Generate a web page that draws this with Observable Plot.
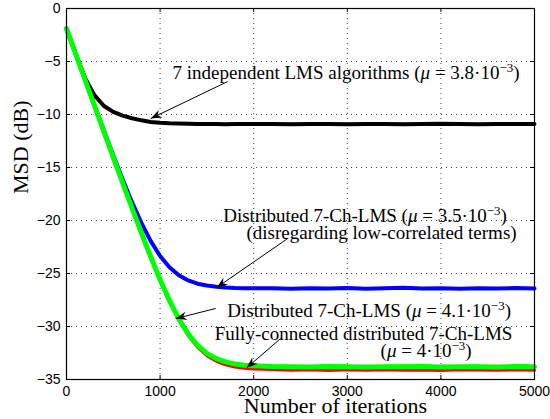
<!DOCTYPE html>
<html><head><meta charset="utf-8">
<script src="https://cdn.jsdelivr.net/npm/d3@7"></script>
<script src="https://cdn.jsdelivr.net/npm/@observablehq/plot@0.6"></script>
<style>html,body{margin:0;padding:0;background:#fff;}</style>
</head><body><div id="chart"></div>
<script>
// ---- data ----
const iterations = [0,100,200,300,400,500,600,700,800,900,1000,1100,1200,1300,1400,1500,1600,1700,1800,1900,2000,
  2200,2400,2600,2800,3000,3200,3400,3600,3800,4000,4200,4400,4600,4800,5000];
const msdIndependent = [-1.90,-4.30,-6.60,-8.20,-9.20,-9.75,-10.10,-10.35,-10.55,-10.70,-10.78,-10.83,-10.86,-10.88,-10.89,-10.90,-10.90,-10.91,-10.90,-10.89,-10.90,
  -10.90,-10.91,-10.89,-10.90,-10.92,-10.90,-10.89,-10.91,-10.90,-10.88,-10.90,-10.91,-10.90,-10.89,-10.90];
const msdDisregarding = [-1.90,-4.33,-6.75,-9.15,-11.53,-13.86,-16.12,-18.27,-20.23,-21.94,-23.35,-24.41,-25.16,-25.65,-25.96,-26.14,-26.25,-26.32,-26.36,-26.38,-26.39,
  -26.40,-26.43,-26.38,-26.42,-26.36,-26.44,-26.40,-26.35,-26.42,-26.39,-26.45,-26.38,-26.41,-26.37,-26.42];
const msdFullyConnected = [-1.90,-4.34,-6.77,-9.20,-11.63,-14.06,-16.47,-18.86,-21.20,-23.48,-25.63,-27.63,-29.39,-30.85,-31.96,-32.76,-33.28,-33.62,-33.82,-33.94,-34.01,
  -34.06,-34.12,-34.08,-34.14,-34.09,-34.13,-34.07,-34.12,-34.10,-34.15,-34.08,-34.11,-34.13,-34.09,-34.12];
const msdDistributed = [-1.90,-4.34,-6.77,-9.20,-11.63,-14.05,-16.46,-18.84,-21.17,-23.44,-25.59,-27.56,-29.29,-30.70,-31.77,-32.53,-33.03,-33.34,-33.54,-33.65,-33.71,
  -33.77,-33.79,-33.81,-33.78,-33.80,-33.82,-33.79,-33.80,-33.78,-33.81,-33.79,-33.80,-33.82,-33.78,-33.80];

const xTicks = [0,1000,2000,3000,4000,5000];
const yTicks = [0,-5,-10,-15,-20,-25,-30,-35];
const xGrid = [1000,2000,3000,4000];
const yGrid = [-5,-10,-15,-20,-25,-30];

const annotationTexts = [
  "7 independent LMS algorithms (μ = 3.8·10⁻³)",
  "Distributed 7-Ch-LMS (μ = 3.5·10⁻³)",
  "(disregarding low-correlated terms)",
  "Distributed 7-Ch-LMS (μ = 4.1·10⁻³)",
  "Fully-connected distributed 7-Ch-LMS",
  "(μ = 4·10⁻³)"
];
const annotationX = [2987, 3190, 3366, 3233, 3174, 3842];
const annotationY = [-6.04, -19.53, -21.13, -28.49, -30.66, -32.26];

const arrowX1 = [1722, 2363, 1594, 2288];
const arrowY1 = [-6.89, -21.7, -28.3, -31.13];
const arrowX2 = [900, 1605, 1167, 1925];
const arrowY2 = [-10.38, -26.32, -29.25, -33.9];

// ---- build tables ----
const series = [
  {name: "independent", values: msdIndependent, color: "#000000", width: 4},
  {name: "disregarding", values: msdDisregarding, color: "#0000ff", width: 4},
  {name: "fully", values: msdFullyConnected, color: "#ff0000", width: 3},
  {name: "distributed", values: msdDistributed, color: "#00ff00", width: 5}
];
const tableFor = s => iterations.map((it, i) => ({x: it, y: s.values[i]}));
const annotations = annotationTexts.map((t, i) => ({text: t, x: annotationX[i], y: annotationY[i]}));
const arrows = arrowX1.map((x, i) => ({x1: x, y1: arrowY1[i], x2: arrowX2[i], y2: arrowY2[i]}));

const W = 550, H = 419, mL = 66, mR = 16, mT = 8, mB = 40;
const plotW = W - mL - mR, plotH = H - mT - mB;
const serif = "'Liberation Serif', 'Times New Roman', serif";
const sans = "'Liberation Sans', Arial, Helvetica, sans-serif";
const fmtY = d => d < 0 ? "\u2212" + Math.abs(d) : String(d);

function stealth(color, context) {
  const ns = "http://www.w3.org/2000/svg";
  const doc = (context && context.document) || document;
  const m = doc.createElementNS(ns, "marker");
  m.setAttribute("viewBox", "-12 -5 13 10");
  m.setAttribute("markerWidth", 13);
  m.setAttribute("markerHeight", 10);
  m.setAttribute("markerUnits", "userSpaceOnUse");
  m.setAttribute("orient", "auto");
  m.setAttribute("refX", 0);
  m.setAttribute("refY", 0);
  const p = doc.createElementNS(ns, "path");
  p.setAttribute("d", "M0,0L-11,-4.2L-7.5,0L-11,4.2Z");
  p.setAttribute("fill", "black");
  p.setAttribute("stroke", "none");
  m.appendChild(p);
  return m;
}

function build(useMarker) {
  const arrowMark = useMarker
    ? Plot.link(arrows, {x1: "x1", y1: "y1", x2: "x2", y2: "y2", stroke: "black", strokeWidth: 1, markerEnd: stealth})
    : Plot.arrow(arrows, {x1: "x1", y1: "y1", x2: "x2", y2: "y2", stroke: "black", strokeWidth: 1, headLength: 11, headAngle: 40});
  return Plot.plot({
    width: W, height: H,
    marginLeft: mL, marginRight: mR, marginTop: mT, marginBottom: mB,
    style: {background: "white", fontFamily: sans},
    x: {domain: [0, 5000]},
    y: {domain: [-35, 0]},
    marks: [
      Plot.gridX(xGrid, {stroke: "#000", strokeOpacity: 0.75, strokeDasharray: "1,4"}),
      Plot.gridY(yGrid, {stroke: "#000", strokeOpacity: 0.75, strokeDasharray: "1,4"}),
      ...series.map(s => Plot.line(tableFor(s), {x: "x", y: "y", stroke: s.color, strokeWidth: s.width, strokeLinejoin: "round"})),
      Plot.tickX(xTicks, {x: d => d, insetTop: plotH - 4, stroke: "black"}),
      Plot.tickX(xTicks, {x: d => d, insetBottom: plotH - 4, stroke: "black"}),
      Plot.tickY(yTicks, {y: d => d, insetRight: plotW - 4, stroke: "black"}),
      Plot.tickY(yTicks, {y: d => d, insetLeft: plotW - 4, stroke: "black"}),
      Plot.frame({stroke: "black", strokeWidth: 1.2}),
      Plot.axisX({ticks: xTicks, tickSize: 0, tickPadding: 7, tickFormat: d => String(d), fontSize: 14, fontFamily: sans, label: null}),
      Plot.axisY({ticks: yTicks, tickSize: 0, tickPadding: 6, tickFormat: fmtY, fontSize: 14, fontFamily: sans, label: null}),
      Plot.text(["Number of iterations"], {frameAnchor: "bottom", dx: 35, dy: 33, lineAnchor: "bottom", fontSize: 22, fontFamily: serif, fill: "black"}),
      Plot.text(["MSD (dB)"], {frameAnchor: "left", dx: -46, rotate: -90, fontSize: 22, fontFamily: serif, fill: "black"}),
      arrowMark,
      Plot.text(annotations, {x: "x", y: "y", text: "text", textAnchor: "middle", fontSize: 19, fontFamily: serif, fill: "black"})
    ]
  });
}

let chart;
try { chart = build(true); } catch (e) { chart = build(false); }

// math-style formatting of the annotation text (italic mu, superscript exponent)
const NS = "http://www.w3.org/2000/svg";
chart.querySelectorAll("text").forEach(t => {
  if (t.children.length) return;
  const m = t.textContent.match(/^(.*)μ(.*)⁻³(.*)$/);
  if (!m) return;
  t.textContent = "";
  const add = (s, attrs = {}) => {
    const ts = document.createElementNS(NS, "tspan");
    ts.textContent = s;
    for (const k in attrs) ts.setAttribute(k, attrs[k]);
    t.appendChild(ts);
  };
  add(m[1]);
  add("μ", {"font-style": "italic"});
  add(m[2]);
  add("\u22123", {"font-size": "13", dy: "-7"});
  add(m[3], {dy: "7"});
});

document.getElementById("chart").appendChild(chart);
</script>
</body></html>
